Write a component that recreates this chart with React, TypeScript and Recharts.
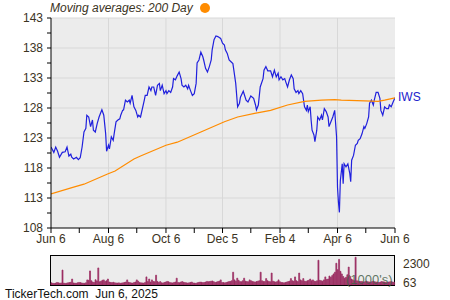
import React from 'react';
import { ComposedChart, Line, XAxis, YAxis, CartesianGrid, ReferenceLine, BarChart, Bar } from 'recharts';

// days counted from Jun 6, 2024
const priceDays = [
  0, 3, 5, 7, 9, 12, 15, 17, 19, 21, 22, 24, 27, 29, 31, 33, 35, 37, 38, 40,
  42, 44, 45, 47, 49, 51, 54, 56, 58, 59, 61, 62, 64, 66, 67, 69, 71, 73, 74, 76,
  77, 79, 81, 83, 84, 86, 88, 90, 92, 93, 95, 99, 100, 102, 104, 106, 107, 109, 111, 113,
  115, 116, 118, 120, 122, 123, 125, 127, 129, 130, 132, 134, 136, 138, 139, 141, 143, 145, 146, 148,
  150, 152, 154, 155, 157, 159, 161, 162, 164, 166, 168, 170, 171, 173, 175, 177, 180, 182, 184, 185,
  187, 189, 191, 193, 194, 196, 198, 200, 201, 204, 207, 209, 212, 215, 217, 218, 220, 222, 225, 226,
  228, 230, 233, 235, 237, 239, 241, 242, 244, 246, 248, 249, 251, 253, 255, 257, 258, 260, 262, 263,
  265, 267, 269, 271, 272, 273, 275, 276, 277, 279, 280, 282, 283, 285, 287, 288, 290, 292, 294, 295,
  297, 299, 301, 303, 304, 305, 306, 307, 309, 310, 311, 313, 315, 317, 318, 319, 321, 323, 325, 326,
  328, 330, 332, 333, 335, 337, 338, 340, 342, 343, 345, 347, 349, 350, 352, 354, 356, 358, 359, 361,
  363, 365,
];

const priceValues = [
  121.5, 120.6, 121.5, 120.8, 119.8, 120.6, 120.7, 121.5, 120.0, 120.3, 119.8, 119.5, 119.8, 119.4, 119.7, 121.5, 124.0, 124.6, 126.8, 126.5,
  124.9, 126.0, 124.3, 124.0, 125.4, 126.5, 127.7, 126.8, 123.7, 120.8, 121.8, 121.2, 123.2, 122.6, 123.7, 125.7, 126.0, 126.2, 126.8, 127.6,
  127.7, 129.3, 129.0, 129.3, 128.8, 130.1, 128.2, 127.6, 126.5, 126.8, 126.5, 129.3, 130.1, 130.1, 131.5, 130.9, 131.5, 131.5, 130.1, 131.8,
  132.1, 130.9, 131.8, 130.4, 130.9, 130.4, 130.9, 130.6, 131.5, 132.9, 132.7, 133.4, 134.0, 132.9, 131.8, 131.5, 131.8, 131.2, 131.8, 130.9,
  130.1, 130.4, 132.1, 135.5, 136.0, 137.3, 136.6, 136.0, 134.6, 134.0, 134.9, 136.0, 137.7, 139.4, 140.0, 139.9, 139.6, 138.8, 138.5, 137.7,
  137.1, 136.0, 135.7, 135.4, 134.3, 132.1, 128.2, 128.8, 129.8, 130.8, 129.3, 129.0, 130.0, 129.6, 128.5, 127.7, 128.5, 131.5, 132.9, 134.3,
  134.9, 134.2, 134.2, 133.2, 134.3, 133.2, 133.8, 132.7, 133.2, 132.7, 132.9, 132.4, 131.5, 132.7, 133.5, 132.9, 131.2, 130.6, 130.9, 130.4,
  130.9, 130.4, 128.2, 127.6, 128.5, 127.4, 128.2, 126.0, 124.3, 123.5, 122.4, 124.3, 126.5, 126.0, 126.8, 126.0, 127.9, 127.4, 126.5, 124.9,
  125.7, 126.5, 127.6, 123.2, 114.8, 112.3, 110.6, 115.9, 118.7, 115.4, 118.7, 118.2, 118.7, 117.1, 115.7, 119.3, 120.1, 121.8, 122.1, 122.6,
  122.9, 123.7, 124.9, 124.6, 125.4, 126.5, 128.8, 129.3, 128.5, 129.3, 130.6, 130.6, 129.6, 127.6, 126.8, 128.2, 127.9, 127.9, 128.5, 128.2,
  129.0, 129.7,
];

const maDays = [0, 24, 35, 60, 68, 88, 95, 122, 134, 159, 184, 198, 216, 233, 251, 269, 287, 301, 308, 333, 347, 354, 365];
const maValues = [113.7, 114.8, 115.3, 117.0, 117.5, 119.5, 120.0, 121.8, 122.3, 124.0, 125.7, 126.5, 127.1, 127.6, 128.5, 129.1, 129.3, 129.4, 129.3, 129.2, 129.1, 129.3, 129.7];

// volume in thousands, one per trading day
const volume = [
  250, 200, 180, 220, 300, 260, 210, 240, 1750, 230, 190, 210, 260, 280, 320, 700, 240, 220, 200, 260, 300, 280, 240, 210, 190,
  260, 600, 550, 1650, 500, 350, 300, 620, 480, 2000, 380, 450, 560, 600, 420, 500, 700, 350, 300, 280, 320, 260, 240, 220, 250,
  200, 230, 260, 300, 350, 600, 320, 280, 240, 220, 300, 350, 600, 450, 280, 260, 240, 220, 300, 950, 400, 700, 350, 600, 420,
  380, 1150, 420, 300, 400, 260, 240, 300, 350, 420, 380, 300, 260, 240, 300, 350, 800, 300, 260, 350, 400, 320, 280, 250, 230,
  260, 300, 350, 240, 220, 200, 260, 300, 350, 320, 280, 300, 350, 420, 380, 400, 450, 470, 380, 300, 350, 400, 450, 600, 300,
  280, 250, 300, 350, 400, 420, 500, 1500, 600, 450, 800, 550, 400, 380, 500, 800, 450, 400, 380, 600, 500, 420, 380, 350, 400,
  450, 500, 1500, 500, 420, 400, 750, 500, 420, 380, 1400, 450, 380, 350, 400, 600, 380, 300, 280, 250, 300, 350, 400, 450, 750,
  500, 450, 950, 500, 400, 1400, 600, 500, 750, 450, 420, 500, 550, 700, 500, 600, 450, 420, 500, 2900, 550, 500, 450, 600, 950,
  650, 700, 1050, 900, 1100, 1300, 1500, 2550, 1800, 3000, 1600, 1300, 1000, 800, 900, 1200, 2100, 1000, 700, 600, 500, 3250, 500, 450, 400,
  420, 380, 350, 400, 450, 380, 350, 320, 400, 450, 380, 350, 330, 300, 350, 400, 380, 350, 320, 300, 350, 380, 400, 350, 320,
];

const dateTicks = [0, 30, 61, 91, 122, 152, 182, 212, 243, 273, 304, 334, 365];
const dateLabels: Record<number, string> = {
  0: 'Jun 6', 61: 'Aug 6', 122: 'Oct 6', 182: 'Dec 5', 243: 'Feb 4', 304: 'Apr 6', 365: 'Jun 6',
};
const majorPrice = [108, 113, 118, 123, 128, 133, 138, 143];
const priceTicks = [108, 110.5, 113, 115.5, 118, 120.5, 123, 125.5, 128, 130.5, 133, 135.5, 138, 140.5, 143];
const volumeTicks = [63, 2300];

const priceData = priceDays.map((d, i) => ({ day: d, price: priceValues[i] }));
const maData = maDays.map((d, i) => ({ day: d, ma: maValues[i] }));
const volumeData = volume.map((v, i) => ({ i, v }));

const FONT = '"Liberation Sans", Arial, sans-serif';
const TEXT = '#3b3323';
const VOL = '#9b2d62';

const iwsLabel = (props: any) => {
  if (props.index !== priceData.length - 1) return null;
  return (
    <text x={props.x + 3} y={props.y + 3} fill="#2222cc" fontSize={12} fontFamily={FONT}>
      IWS
    </text>
  );
};

export default function App() {
  return (
    <div style={{ position: 'absolute', left: 0, top: 0, width: 450, height: 300, background: '#fff', fontFamily: FONT }}>
      <div style={{ position: 'absolute', left: 50, top: 1, fontSize: 12, fontStyle: 'italic', color: TEXT, display: 'flex', alignItems: 'center' }}>
        Moving averages: 200 Day
        <span style={{ display: 'inline-block', width: 10, height: 10, borderRadius: 5, background: '#ff8c00', marginLeft: 7 }} />
      </div>

      <div style={{ position: 'absolute', left: 0, top: 0 }}>
        <ComposedChart width={450} height={250} margin={{ top: 18, right: 55, bottom: 2, left: 6 }}>
          <CartesianGrid fill="#ececec" horizontal={false} vertical={false} />
          <XAxis
            type="number"
            dataKey="day"
            domain={[0, 365]}
            ticks={dateTicks}
            tickFormatter={(v: number) => dateLabels[v] ?? ''}
            interval={0}
            height={20}
            tickSize={5}
            tickMargin={1}
            axisLine={{ stroke: '#000' }}
            tickLine={{ stroke: '#000' }}
            tick={{ fill: TEXT, fontSize: 12, fontFamily: FONT }}
            allowDataOverflow
          />
          <YAxis
            domain={[108, 143]}
            ticks={priceTicks}
            tickFormatter={(v: number) => (majorPrice.includes(v) ? String(v) : '')}
            interval={0}
            width={45}
            tickSize={4}
            tickMargin={4}
            axisLine={{ stroke: '#000' }}
            tickLine={{ stroke: '#000' }}
            tick={{ fill: TEXT, fontSize: 12, fontFamily: FONT }}
            allowDataOverflow
          />
          {majorPrice.slice(1).map((v) => (
            <ReferenceLine key={'h' + v} y={v} stroke="#d8d8d8" strokeWidth={1} />
          ))}
          {[61, 122, 182, 243, 304].map((d) => (
            <ReferenceLine key={'v' + d} x={d} stroke="#d8d8d8" strokeWidth={1} />
          ))}
          <Line
            data={priceData}
            dataKey="price"
            stroke="#2020dd"
            strokeWidth={1.2}
            dot={false}
            isAnimationActive={false}
            label={iwsLabel}
          />
          <Line
            data={maData}
            dataKey="ma"
            stroke="#ff8c00"
            strokeWidth={1.2}
            dot={false}
            isAnimationActive={false}
          />
        </ComposedChart>
      </div>

      <div style={{ position: 'absolute', left: 50, top: 255, width: 345, height: 31, boxSizing: 'border-box', border: '1px solid #000', background: '#ececec' }} />

      <div style={{ position: 'absolute', left: 0, top: 252 }}>
        <BarChart width={450} height={40} data={volumeData} margin={{ top: 4, right: 15, bottom: 7, left: 51 }} barCategoryGap={0} barGap={0}>
          <XAxis dataKey="i" hide />
          <YAxis
            orientation="right"
            domain={[0, 3400]}
            ticks={volumeTicks}
            interval={0}
            width={40}
            tickLine={false}
            axisLine={false}
            tickMargin={2}
            tick={{ fill: TEXT, fontSize: 12, fontFamily: FONT, dy: -2 }}
            allowDataOverflow
          />
          <Bar dataKey="v" fill={VOL} stroke={VOL} strokeWidth={0.7} isAnimationActive={false} />
        </BarChart>
      </div>

      <div style={{ position: 'absolute', left: 346, top: 272, fontSize: 13, color: 'rgba(70,95,75,0.85)' }}>(1000's)</div>

      <div style={{ position: 'absolute', left: 5, top: 287, fontSize: 12, color: '#111', whiteSpace: 'pre' }}>
        TickerTech.com  Jun 6, 2025
      </div>
    </div>
  );
}
